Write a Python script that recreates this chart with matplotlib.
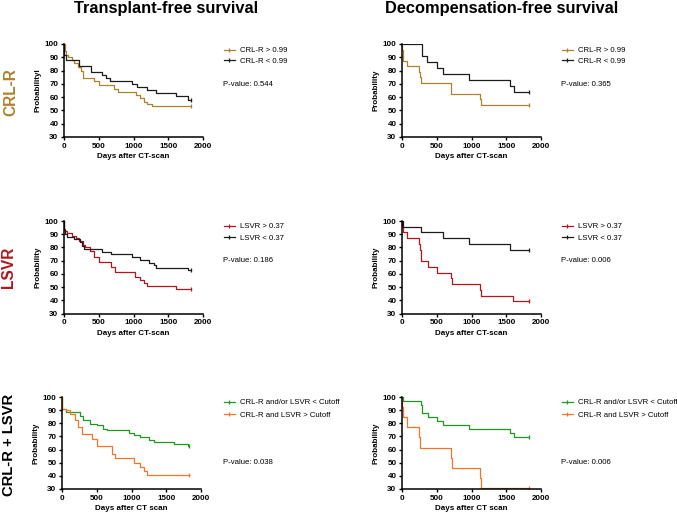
import numpy as np
import matplotlib
matplotlib.use("Agg")
import matplotlib.pyplot as plt
from matplotlib.lines import Line2D

plt.rcParams['font.family'] = ['Liberation Sans', 'DejaVu Sans']

# colours
c_black = '#1c1c1c'
c_brown = '#b0812c'
c_red = '#b3161c'
c_green = '#1f9a1f'
c_orange = '#f57427'

# --- data (days, survival %) ---
# transplant-free, CRL-R
tf_crl_hi_t = [0, 10, 30, 60, 110, 150, 200, 250, 280, 430, 500, 720, 780, 1030, 1090, 1150, 1200, 1270, 1830]
tf_crl_hi_s = [100, 95, 92, 90, 88, 86, 83, 80, 74.5, 72.5, 69, 66, 63.8, 61.5, 59, 56.5, 54.5, 53, 53]
tf_crl_lo_t = [0, 5, 25, 220, 390, 550, 610, 660, 985, 1050, 1195, 1317, 1610, 1780, 1830]
tf_crl_lo_s = [100, 92, 88.2, 83.6, 79, 76.8, 74.3, 72, 69.8, 67.3, 65, 63, 60.5, 58, 58]

# decompensation-free, CRL-R
df_crl_hi_t = [0, 5, 10, 15, 65, 250, 260, 270, 700, 710, 1120, 1130, 1822]
df_crl_hi_s = [100, 95.8, 91.7, 87.5, 83.3, 79.2, 75, 70.8, 66.7, 62.5, 58.3, 54.2, 54.2]
df_crl_lo_t = [0, 290, 360, 497, 596, 964, 1547, 1605, 1822]
df_crl_lo_s = [100, 90.9, 86.4, 81.8, 77.3, 72.7, 68.2, 63.6, 63.6]

# transplant-free, LSVR
tf_lsvr_hi_t = [0, 5, 20, 50, 120, 170, 220, 270, 295, 380, 430, 510, 675, 730, 1020, 1100, 1150, 1200, 1610, 1830]
tf_lsvr_hi_s = [100, 94, 92.5, 91, 89, 87, 84.5, 82, 80, 77, 73, 69.3, 65.5, 61.2, 57.5, 55, 53, 50.5, 48.5, 48.5]
tf_lsvr_lo_t = [0, 5, 20, 50, 150, 230, 260, 293, 540, 683, 985, 1100, 1220, 1290, 1330, 1790, 1830]
tf_lsvr_lo_s = [100, 93, 90.5, 88.2, 86.4, 84, 81, 78.6, 76.8, 74.8, 72.8, 70.8, 68.5, 66.8, 64.7, 63, 63]

# decompensation-free, LSVR
df_lsvr_hi_t = [0, 5, 10, 70, 250, 260, 270, 280, 370, 500, 700, 715, 1120, 1130, 1600, 1822]
df_lsvr_hi_s = [100, 95.7, 91.3, 87, 82.6, 78.3, 73.9, 69.6, 65.2, 60.9, 56.5, 52.2, 47.8, 43.5, 39.1, 39.1]
df_lsvr_lo_t = [0, 10, 280, 590, 970, 1550, 1822]
df_lsvr_lo_s = [100, 95.7, 91.3, 87, 82.6, 78.3, 78.3]

# transplant-free, combined
tf_comb_lo_t = [0, 1, 3, 63, 257, 305, 402, 499, 596, 644, 959, 1031, 1128, 1249, 1322, 1613, 1806, 1830]
tf_comb_lo_s = [100, 95, 91, 88.6, 85.4, 82.3, 79.3, 78.5, 76, 74.7, 72.7, 71, 69.2, 67.2, 66, 64, 62.6, 62.6]
tf_comb_hi_t = [0, 3, 63, 111, 184, 232, 281, 426, 499, 717, 765, 1031, 1128, 1177, 1225, 1830]
tf_comb_hi_s = [100, 91, 90, 87.4, 82.3, 77.3, 71.7, 68.4, 62.6, 57, 53.3, 50, 47, 43.7, 40.7, 40.7]

# decompensation-free, combined
df_comb_lo_t = [0, 10, 268, 288, 370, 500, 590, 970, 1550, 1607, 1822]
df_comb_lo_s = [100, 97, 93.9, 87.9, 84.8, 81.8, 78.8, 75.8, 72.7, 69.7, 69.7]
df_comb_hi_t = [0, 5, 15, 70, 250, 260, 700, 715, 1120, 1130, 1822]
df_comb_hi_s = [100, 92.3, 84.6, 76.9, 69.2, 61.5, 53.8, 46.2, 38.5, 30.8, 30.8]

col_titles = ['Transplant-free survival', 'Decompensation-free survival']
row_labels = ['CRL-R', 'LSVR', 'CRL-R + LSVR']
row_colors = [c_brown, c_red, 'black']

fig = plt.figure(figsize=(6.77, 5.14), dpi=100)
W, H = 677.0, 514.0


def fx(px):
    return px / W


def fy(py):
    return 1 - py / H


def km_panel(rect, curves, ylabel, xlabel):
    ax = fig.add_axes(rect)
    for t, s, col, lab in curves:
        ax.step(t, s, where='post', color=col, lw=0.9, label=lab)
        ax.plot(t[-1], s[-1], marker='|', ms=2.5, mew=0.9, color=col)
    ax.set_xlim(0, 2000)
    ax.set_ylim(30, 100)
    ax.set_xticks([0, 500, 1000, 1500, 2000])
    ax.set_yticks(np.arange(30, 101, 10))
    for sp in ['top', 'right']:
        ax.spines[sp].set_visible(False)
    for sp in ['left', 'bottom']:
        ax.spines[sp].set_linewidth(1.1)
    ax.tick_params(length=2.5, width=1, pad=1.5, labelsize=5.8)
    for lbl in ax.get_xticklabels() + ax.get_yticklabels():
        lbl.set_fontweight('bold')
    ax.set_ylabel(ylabel, fontsize=5.8, fontweight='bold', labelpad=2)
    ax.set_xlabel(xlabel, fontsize=5.8, fontweight='bold', labelpad=2.5)
    ax.margins(0)
    return ax


def legend_at(ax, curves, x, y, spacing):
    handles = [Line2D([0], [0], color=c, lw=0.9, marker='|', ms=3, mew=0.9) for _, _, c, _ in curves]
    labels = [lab for _, _, _, lab in curves]
    ax.legend(handles, labels, loc='upper left', bbox_to_anchor=(fx(x), fy(y)),
              bbox_transform=fig.transFigure, frameon=False, fontsize=5.6,
              handlelength=1.4, handletextpad=0.7, borderpad=0, borderaxespad=0,
              labelspacing=spacing, numpoints=1)


panels = [
    # (left px, top px, bottom px, curves, ylabel, xlabel, legend y, legend spacing, pvalue, pvalue y)
    (64, 44, 137,
     [(tf_crl_hi_t, tf_crl_hi_s, c_brown, 'CRL-R > 0.99'), (tf_crl_lo_t, tf_crl_lo_s, c_black, 'CRL-R < 0.99')],
     'Probabilityl', 'Days after CT-scan', 47, 0.42, 'P-value: 0.544', 84),
    (402, 44, 137,
     [(df_crl_hi_t, df_crl_hi_s, c_brown, 'CRL-R > 0.99'), (df_crl_lo_t, df_crl_lo_s, c_black, 'CRL-R < 0.99')],
     'Probability', 'Days after CT-scan', 47, 0.42, 'P-value: 0.365', 84),
    (64, 221, 313.5,
     [(tf_lsvr_hi_t, tf_lsvr_hi_s, c_red, 'LSVR > 0.37'), (tf_lsvr_lo_t, tf_lsvr_lo_s, c_black, 'LSVR < 0.37')],
     'Probability', 'Days after CT-scan', 223, 0.5, 'P-value: 0.186', 260),
    (402, 221, 313.5,
     [(df_lsvr_hi_t, df_lsvr_hi_s, c_red, 'LSVR > 0.37'), (df_lsvr_lo_t, df_lsvr_lo_s, c_black, 'LSVR < 0.37')],
     'Probability', 'Days after CT-scan', 223, 0.5, 'P-value: 0.006', 260),
    (62, 397, 489,
     [(tf_comb_lo_t, tf_comb_lo_s, c_green, 'CRL-R and/or LSVR < Cutoff'), (tf_comb_hi_t, tf_comb_hi_s, c_orange, 'CRL-R and LSVR > Cutoff')],
     'Probability', 'Days after CT scan', 399, 0.65, 'P-value: 0.038', 463),
    (402, 397, 489,
     [(df_comb_lo_t, df_comb_lo_s, c_green, 'CRL-R and/or LSVR < Cutoff'), (df_comb_hi_t, df_comb_hi_s, c_orange, 'CRL-R and LSVR > Cutoff')],
     'Probability', 'Days after CT scan', 399, 0.65, 'P-value: 0.006', 463),
]

for left, top, bottom, curves, ylab, xlab, ly, lsp, ptxt, py in panels:
    rect = [fx(left), fy(bottom), fx(139), (bottom - top) / H]
    ax = km_panel(rect, curves, ylab, xlab)
    lx = 224 if left < 300 else 562
    legend_at(ax, curves, lx, ly, lsp)
    fig.text(fx(lx - 1), fy(py), ptxt, fontsize=5.6, va='center', ha='left')

# column titles
fig.text(fx(166), fy(8), col_titles[0], fontsize=11.8, fontweight='bold', ha='center', va='center')
fig.text(fx(502), fy(8), col_titles[1], fontsize=11.8, fontweight='bold', ha='center', va='center')

# row labels
fig.text(fx(11), fy(92), row_labels[0], fontsize=11.2, fontweight='bold', rotation=90,
         ha='center', va='center', color=row_colors[0])
fig.text(fx(8), fy(267), row_labels[1], fontsize=11.2, fontweight='bold', rotation=90,
         ha='center', va='center', color=row_colors[1])
fig.text(fx(9), fy(445), row_labels[2], fontsize=10.6, fontweight='bold', rotation=90,
         ha='center', va='center', color=row_colors[2])

fig.savefig('out.png', dpi=100)
